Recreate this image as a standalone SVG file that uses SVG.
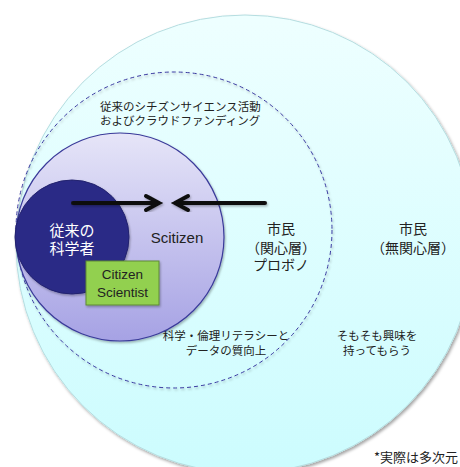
<svg xmlns="http://www.w3.org/2000/svg" width="460" height="467" viewBox="0 0 460 467">
  <style>
    .jp { font-family: "Noto Sans CJK JP", "Noto Sans", sans-serif; fill: #222; }
    .lat { font-family: "Liberation Sans", Arial, sans-serif; fill: #222; }
    .arrow { stroke: #111; stroke-width: 4; fill: none; stroke-linecap: round; stroke-linejoin: miter; }
  </style>
  <defs>
    <linearGradient id="gBig" x1="0" y1="0" x2="0" y2="1">
      <stop offset="0" stop-color="#EEFFFF"/>
      <stop offset="1" stop-color="#CCFCFE"/>
    </linearGradient>
    <linearGradient id="gPurple" x1="0" y1="0" x2="0" y2="1">
      <stop offset="0" stop-color="#E6E5F8"/>
      <stop offset="1" stop-color="#A6A2E4"/>
    </linearGradient>
    <filter id="shadow" x="-10%" y="-10%" width="120%" height="120%">
      <feDropShadow dx="1.5" dy="2" stdDeviation="1.5" flood-color="#000" flood-opacity="0.35"/>
    </filter>
    <filter id="shadowSm" x="-10%" y="-10%" width="120%" height="120%">
      <feDropShadow dx="1" dy="1.5" stdDeviation="1" flood-color="#000" flood-opacity="0.3"/>
    </filter>
  </defs>

  <rect width="460" height="467" fill="#FFFFFF"/>

  <g id="node-citizens-uninterested">
    <circle cx="245" cy="244" r="229" fill="url(#gBig)" stroke="#B5DDE0" stroke-width="1" filter="url(#shadow)"/>
    <text class="jp" font-size="14" text-anchor="middle" x="413" y="234">市民<tspan x="413" dy="19">（無関心層）</tspan></text>
    <text class="jp" font-size="11.5" text-anchor="middle" x="377" y="340">そもそも興味を<tspan x="377" dy="15">持ってもらう</tspan></text>
  </g>

  <g id="node-citizens-interested">
    <circle cx="174" cy="230" r="158" fill="none" stroke="#3A3AA0" stroke-width="1" stroke-dasharray="4 3" filter="url(#shadowSm)"/>
    <text class="jp" font-size="11.5" x="100" y="111">従来のシチズンサイエンス活動<tspan x="100" dy="14">およびクラウドファンディング</tspan></text>
    <text class="jp" font-size="14" text-anchor="middle" x="281" y="234">市民<tspan x="281" dy="19">（関心層）</tspan><tspan x="281" dy="17">プロボノ</tspan></text>
    <text class="jp" font-size="11.5" text-anchor="middle" x="226" y="340">科学・倫理リテラシーと<tspan x="226" dy="15">データの質向上</tspan></text>
  </g>

  <g id="node-scitizen">
    <circle cx="120" cy="237" r="104" fill="url(#gPurple)" stroke="#3A3A9A" stroke-width="1.2" filter="url(#shadowSm)"/>
    <text class="lat" font-size="15" text-anchor="middle" x="177" y="243">Scitizen</text>
  </g>

  <g id="node-scientists">
    <circle cx="72" cy="237" r="57" fill="#2B2B86" stroke="#22226E" stroke-width="1" filter="url(#shadowSm)"/>
    <text class="jp" font-size="15" text-anchor="middle" x="72" y="235.5" style="fill:#FFFFFF">従来の<tspan x="72" dy="18">科学者</tspan></text>
  </g>

  <g id="node-citizen-scientist">
    <rect x="86" y="261" width="73" height="44" fill="#92D050" stroke="#5E8A34" stroke-width="1" filter="url(#shadowSm)"/>
    <text class="lat" font-size="13.5" text-anchor="middle" x="122.5" y="279">Citizen<tspan x="122.5" dy="18">Scientist</tspan></text>
  </g>

  <g id="connectors" filter="url(#shadowSm)">
    <path class="arrow" d="M73 203 H159 M146 196 L159 203 L146 210"/>
    <path class="arrow" d="M265 203 H175 M188 196 L175 203 L188 210"/>
  </g>

  <text class="jp" font-size="13" text-anchor="end" x="458" y="462">*実際は多次元</text>
</svg>
